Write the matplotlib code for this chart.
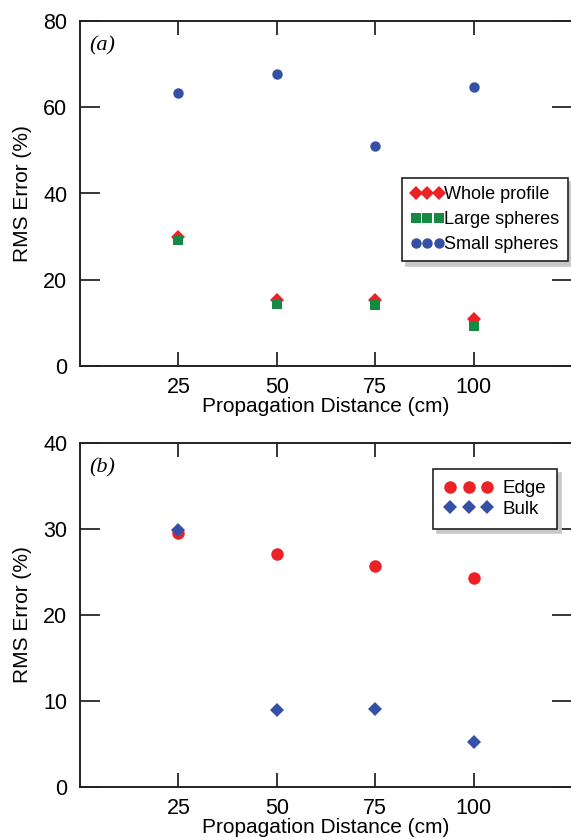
import matplotlib
matplotlib.use("Agg")
import matplotlib.pyplot as plt

plt.rcParams['font.family'] = ['Liberation Sans', 'DejaVu Sans']

# propagation distances (cm)
distance = [25, 50, 75, 100]

# panel (a): RMS error (%)
whole_profile = [30.0, 15.3, 15.3, 10.9]
large_spheres = [29.3, 14.3, 14.1, 9.3]
small_spheres = [63.3, 67.7, 51.0, 64.7]

# panel (b): RMS error (%)
edge = [29.5, 27.1, 25.7, 24.3]
bulk = [29.9, 9.0, 9.1, 5.2]

RED = '#ec2227'
GREEN = '#168a43'
BLUE = '#3550a6'

W, H = 571, 838
fig = plt.figure(figsize=(W / 100, H / 100), dpi=100)


def px_axes(left, top, right, bottom):
    return fig.add_axes([left / W, 1 - bottom / H, (right - left) / W, (bottom - top) / H])


def style_axes(ax, ymax, ystep):
    ax.set_xlim(0, 125)
    ax.set_ylim(0, ymax)
    ax.set_xticks(distance)
    ax.set_yticks(range(0, ymax + 1, ystep))
    ax.tick_params(axis='x', direction='in', length=10, width=1.1, top=True,
                   labelsize=15.5, pad=8)
    ax.tick_params(axis='y', direction='in', length=14.5, width=1.1, right=True,
                   labelsize=15.5, pad=9)
    for s in ax.spines.values():
        s.set_linewidth(1.4)
        s.set_color('#222222')
    ax.set_xlabel('Propagation Distance (cm)', fontsize=15, labelpad=-1)
    ax.set_ylabel('RMS Error (%)', fontsize=15, labelpad=8)


def legend(ax, x, y, fs, **kw):
    leg = ax.legend(loc='upper left', bbox_to_anchor=(x / W, 1 - y / H),
                    bbox_transform=fig.transFigure, numpoints=3, fontsize=fs,
                    frameon=True, fancybox=False,
                    shadow={'color': '#c8c8c8', 'alpha': 1, 'ox': 3, 'oy': -3},
                    borderaxespad=0, **kw)
    leg.get_frame().set_edgecolor('#222222')
    leg.get_frame().set_linewidth(1.2)
    return leg


# panel (a)
ax1 = px_axes(80, 21, 572, 366)
ax1.plot(distance, whole_profile, 'D', color=RED, ms=7.5, mew=0, label='Whole profile')
ax1.plot(distance, large_spheres, 's', color=GREEN, ms=6.5, mew=0, label='Large spheres')
ax1.plot(distance, small_spheres, 'o', color=BLUE, ms=7.5, mew=0, label='Small spheres')
style_axes(ax1, 80, 20)
ax1.text(0.018, 0.955, '(a)', transform=ax1.transAxes, ha='left', va='top',
         fontsize=16, family='Liberation Serif', style='italic')
legend(ax1, 402, 178, 13, handletextpad=0.0, handlelength=1.9,
       borderpad=0.45, labelspacing=0.45)

# panel (b)
ax2 = px_axes(80, 443, 572, 787)
ax2.plot(distance, edge, 'o', color=RED, ms=9, mew=0, label='Edge')
ax2.plot(distance, bulk, 'D', color=BLUE, ms=7.5, mew=0, label='Bulk')
style_axes(ax2, 40, 10)
ax2.text(0.018, 0.955, '(b)', transform=ax2.transAxes, ha='left', va='top',
         fontsize=16, family='Liberation Serif', style='italic')
legend(ax2, 433, 469, 13.5, handletextpad=0.5, handlelength=2.6,
       borderpad=0.6, labelspacing=0.18)

fig.savefig('out.png', dpi=100)
